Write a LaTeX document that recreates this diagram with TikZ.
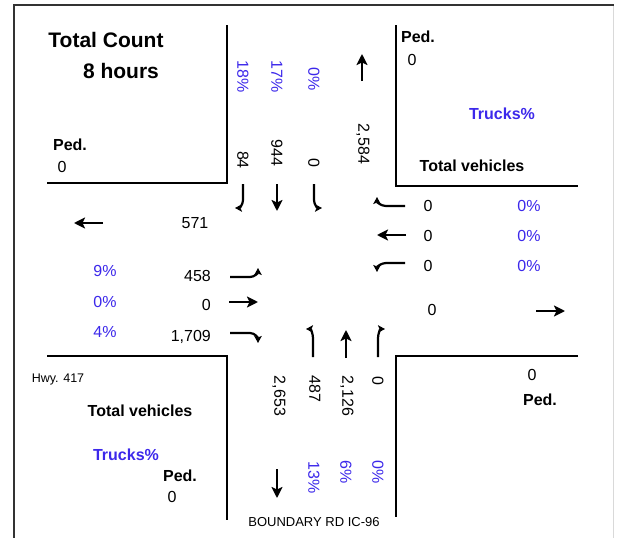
\documentclass[tikz,border=0pt]{standalone}
\usepackage{fontspec}
\setmainfont{Liberation Sans}
\usetikzlibrary{arrows.meta}
\definecolor{pblue}{RGB}{60,40,235}
\begin{document}
\begin{tikzpicture}[x=1pt,y=-1pt,
  num/.style={font=\fontsize{16}{18}\selectfont, inner sep=0pt},
  pct/.style={num, text=pblue},
  lbl/.style={font=\fontsize{16}{18}\selectfont\bfseries, inner sep=0pt},
  blbl/.style={lbl, text=pblue},
  ttl/.style={font=\fontsize{21}{24}\selectfont\bfseries, inner sep=0pt},
  small/.style={font=\fontsize{12.5}{14}\selectfont, inner sep=0pt},
  vert/.style={rotate=-90},
  curb/.style={line width=2.4pt, line cap=butt},
  frameline/.style={line width=2pt, black!80},
  bigarrow/.style={line width=2.4pt,-{Stealth[length=11pt,width=11pt,inset=2.5pt]}},
  turnarrow/.style={line width=2.2pt,-{Stealth[length=7pt,width=7.5pt,inset=1.5pt]}},
]
\useasboundingbox (0,0) rectangle (619,538);
\fill[white] (0,0) rectangle (619,538);
% frame
\draw[frameline] (14,538) -- (14,5) -- (614,5);
\draw[line width=1pt, black!15] (613,6) -- (613,538);
% corner curbs
\draw[curb] (47,183) -- (227,183) -- (227,25);
\draw[curb] (396,25) -- (396,186) -- (578,186);
\draw[curb] (47,356) -- (227,356) -- (227,520);
\draw[curb] (578,356) -- (396,356) -- (396,517);

% top-left box texts
\node[ttl] (tc) at (106,40) {Total Count};
\node[ttl] (hrs) at (121,71) {8 hours};
\node[lbl] (pedtl) at (70,145) {Ped.};
\node[num] (pedtlv) at (62,167) {0};

% top-right box texts
\node[lbl] (pedtr) at (418,37) {Ped.};
\node[num] (pedtrv) at (412,60) {0};
\node[blbl] (trtr) at (502,114) {Trucks\%};
\node[lbl] (tvtr) at (472,166) {Total vehicles};

% bottom-left texts
\node[small] (hwy) at (58,379) {Hwy. 417};
\node[lbl] (tvbl) at (140,411) {Total vehicles};
\node[blbl] (trbl) at (126,455) {Trucks\%};
\node[lbl] (pedbl) at (180,476) {Ped.};
\node[num] (pedblv) at (172,497) {0};

% bottom-right texts
\node[num] (pedbrv) at (532,375) {0};
\node[lbl] (pedbr) at (540,400) {Ped.};

% north approach (southbound)
\node[pct,vert] (p18) at (243,77) {18\%};
\node[pct,vert] (p17) at (277,77) {17\%};
\node[pct,vert] (p0n) at (314,79) {0\%};
\node[num,vert] (n84) at (243,160) {84};
\node[num,vert] (n944) at (277,153) {944};
\node[num,vert] (n0n) at (314,163) {0};
\node[num,vert] (n2584) at (363,144) {2,584};
\draw[bigarrow] (362,81) -- (362,54);
\draw[turnarrow] (243,184) -- (243,200) to[out=-90,in=0] (235,208);
\draw[bigarrow] (277,184) -- (277,211);
\draw[turnarrow] (314,184) -- (314,200) to[out=-90,in=180] (322,208);

% west approach
\draw[bigarrow] (103,223) -- (74,223);
\node[num] (n571) at (195,223) {571};
\node[pct] (p9) at (105,271) {9\%};
\node[pct] (p0w) at (105,302) {0\%};
\node[pct] (p4) at (105,332) {4\%};
\node[num,anchor=east] (n458) at (211,276) {458};
\node[num,anchor=east] (n0w) at (211,305) {0};
\node[num,anchor=east] (n1709) at (211,337) {1,709};
\draw[turnarrow] (230,277) -- (250,277) to[out=0,in=-90] (258,268);
\draw[bigarrow] (229,302) -- (258,302);
\draw[turnarrow] (230,333) -- (250,333) to[out=0,in=90] (258,343);

% east approach
\draw[turnarrow] (405,206) -- (386,206) to[out=180,in=-90] (377,197);
\draw[bigarrow] (406,235) -- (377,235);
\draw[turnarrow] (405,263) -- (386,263) to[out=180,in=90] (377,272);

\node[num] (e1) at (428,206) {0};
\node[num] (e2) at (428,236) {0};
\node[num] (e3) at (428,266) {0};
\node[pct] (pe1) at (529,206) {0\%};
\node[pct] (pe2) at (529,236) {0\%};
\node[pct] (pe3) at (529,266) {0\%};
\node[num] (eout) at (432,310) {0};
\draw[bigarrow] (536,311) -- (565,311);

% south approach (northbound)
\draw[turnarrow] (313,357) -- (313,338) to[out=90,in=0] (306,329);
\draw[bigarrow] (346,358) -- (346,330);
\draw[turnarrow] (378,357) -- (378,338) to[out=90,in=180] (385,329);
\node[num,vert] (n2653) at (279,396) {2,653};
\node[num,vert] (n487) at (315,389) {487};
\node[num,vert] (n2126) at (347,396) {2,126};
\node[num,vert] (n0s) at (378,381) {0};
\node[pct,vert] (p13) at (314,478) {13\%};
\node[pct,vert] (p6) at (346,472) {6\%};
\node[pct,vert] (p0s) at (378,472) {0\%};
\draw[bigarrow] (277,469) -- (277,498);
\node[font=\fontsize{13}{15}\selectfont, inner sep=0pt] (road) at (314,522) {BOUNDARY RD IC-96};
\end{tikzpicture}
\end{document}
